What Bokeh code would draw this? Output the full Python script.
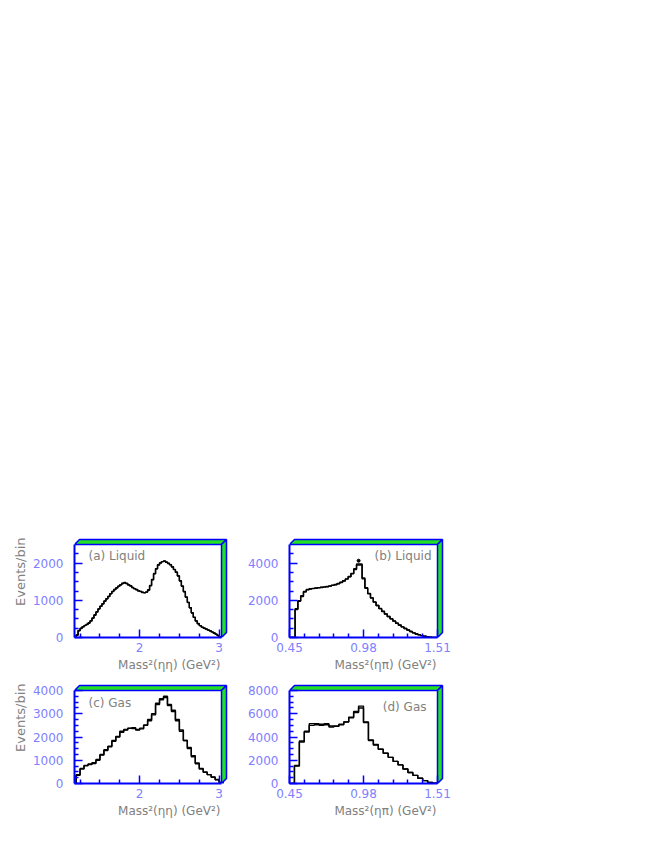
from bokeh.plotting import figure
from bokeh.layouts import column, row
from bokeh.models import Range1d, FixedTicker, Spacer, Label, Title
from bokeh.embed import file_html
from bokeh.resources import INLINE

# ---------------- data ----------------
# Mass^2(eta eta) histograms
etaeta_lo = 1.2
liquid_etaeta_width = 0.025
liquid_etaeta_data = [60, 190, 250, 290, 320, 345, 380, 440, 520, 610,
                      690, 770, 840, 900, 980, 1040, 1100, 1180, 1240, 1290,
                      1330, 1380, 1420, 1460, 1480, 1450, 1410, 1390, 1340, 1310,
                      1290, 1250, 1240, 1210, 1200, 1220, 1270, 1400, 1560, 1720,
                      1850, 1960, 2000, 2040, 2060, 2020, 1990, 1960, 1900, 1830,
                      1760, 1660, 1520, 1380, 1230, 1080, 940, 800, 660, 540,
                      440, 370, 320, 280, 250, 230, 200, 180, 150, 120,
                      90, 55, 20]
liquid_etaeta_fit = [70, 180, 240, 285, 325, 355, 395, 450, 525, 600,
                     685, 765, 840, 910, 975, 1040, 1110, 1175, 1235, 1290,
                     1340, 1380, 1420, 1450, 1465, 1450, 1420, 1385, 1345, 1315,
                     1285, 1260, 1235, 1215, 1205, 1225, 1285, 1390, 1550, 1710,
                     1845, 1945, 2010, 2040, 2050, 2030, 2000, 1955, 1895, 1825,
                     1750, 1650, 1525, 1385, 1235, 1090, 945, 800, 665, 545,
                     450, 375, 320, 280, 255, 230, 205, 180, 150, 120,
                     90, 55, 20]
gas_etaeta_width = 0.05
gas_etaeta_data = [350, 650, 780, 820, 860, 1000, 1250, 1450, 1580, 1850,
                   2000, 2250, 2300, 2370, 2400, 2300, 2350, 2500, 2750, 2950,
                   3450, 3600, 3750, 3350, 3150, 2750, 2300, 1850, 1550, 1200,
                   850, 620, 480, 380, 280, 170, 50]
gas_etaeta_fit = [380, 620, 760, 840, 900, 1030, 1220, 1420, 1600, 1820,
                  2020, 2200, 2320, 2380, 2360, 2320, 2380, 2520, 2700, 3000,
                  3400, 3650, 3700, 3400, 3100, 2700, 2250, 1850, 1500, 1150,
                  880, 650, 500, 380, 270, 160, 40]

# Mass^2(eta pi) histograms
etapi_lo = 0.45
liquid_etapi_width = 0.02
liquid_etapi_data = [0, 0, 1550, 1950, 2200, 2450, 2560, 2620, 2640, 2660,
                     2680, 2690, 2720, 2730, 2760, 2800, 2850, 2900, 2960, 3050,
                     3150, 3280, 3450, 3700, 3950, 3950, 3150, 2650, 2350, 2120,
                     1900, 1720, 1560, 1410, 1260, 1130, 1000, 880, 770, 660,
                     570, 480, 400, 320, 250, 190, 140, 100, 65, 40,
                     20, 8, 0]
liquid_etapi_fit = [0, 0, 1500, 1980, 2250, 2480, 2580, 2610, 2630, 2650,
                    2670, 2700, 2710, 2740, 2770, 2810, 2840, 2890, 2970, 3040,
                    3140, 3270, 3430, 3650, 3900, 3900, 3200, 2680, 2370, 2130,
                    1910, 1720, 1550, 1400, 1260, 1130, 1010, 890, 770, 670,
                    570, 480, 400, 320, 250, 190, 140, 100, 65, 40,
                    20, 8, 0]
liquid_etapi_peak_x = [0.945]
liquid_etapi_peak_y = [4130]
gas_etapi_width = 1.06 / 30
gas_etapi_data = [0, 1550, 3570, 4430, 5000, 5060, 5000, 5060, 4860, 4910,
                  5060, 5290, 5710, 6200, 6660, 5300, 3700, 3350, 2950, 2600,
                  2250, 1900, 1600, 1250, 950, 700, 450, 250, 100, 30]
gas_etapi_fit = [0, 1500, 3650, 4500, 5150, 5150, 5100, 5150, 4950, 4950,
                 5100, 5300, 5650, 6100, 6500, 5250, 3750, 3300, 2950, 2600,
                 2250, 1900, 1600, 1250, 950, 700, 450, 250, 100, 30]

# axes
etaeta_range = (1.18, 3.03)
etaeta_major = [2, 3]
etaeta_minor = [1.25, 1.5, 1.75, 2.25, 2.5, 2.75]
etapi_range = (0.45, 1.51)
etapi_major = [0.45, 0.98, 1.51]
etapi_minor = [0.556, 0.662, 0.768, 0.874, 1.086, 1.192, 1.298, 1.404]

liquid_etaeta_ymax = 2500
liquid_etaeta_ymajor = [0, 1000, 2000]
liquid_etaeta_yminor = [250, 500, 750, 1250, 1500, 1750, 2250]
liquid_etapi_ymax = 5000
liquid_etapi_ymajor = [0, 2000, 4000]
liquid_etapi_yminor = [500, 1000, 1500, 2500, 3000, 3500, 4500]
gas_etaeta_ymax = 4000
gas_etaeta_ymajor = [0, 1000, 2000, 3000, 4000]
gas_etaeta_yminor = [250, 500, 750, 1250, 1500, 1750, 2250, 2500, 2750, 3250, 3500, 3750]
gas_etapi_ymax = 8000
gas_etapi_ymajor = [0, 2000, 4000, 6000, 8000]
gas_etapi_yminor = [500, 1000, 1500, 2500, 3000, 3500, 4500, 5000, 5500, 6500, 7000, 7500]

etaeta_title = "Mass\u00b2(\u03b7\u03b7) (GeV\u00b2)"
etapi_title = "Mass\u00b2(\u03b7\u03c0) (GeV\u00b2)"
y_title = "Events/bin"

# ---------------- style ----------------
FONT = "DejaVu Sans"
BLUE = "#0000ff"
GREEN = "#22e022"
TICK_COL = "#8080ff"
TEXT_COL = "#808080"
DEPTH = 5
PAD = 7


def make_panel(lo, width, data, fit, xr, ymax, xmaj, xmin, ymaj, ymin,
               tag, tag_side, tag_dx, tag_dy, xtitle, ytitle,
               plot_w, plot_h, b_left, b_right, peak=None):
    x0, x1 = xr
    ux = (x1 - x0) / plot_w
    uy = ymax / plot_h
    p = figure(frame_width=plot_w + PAD, frame_height=plot_h + PAD,
               x_range=Range1d(x0, x1 + PAD * ux), y_range=Range1d(0, ymax + PAD * uy),
               output_backend="svg", toolbar_location=None,
               min_border_left=b_left, min_border_right=b_right,
               min_border_top=4, min_border_bottom=42)
    p.outline_line_color = None
    p.grid.visible = False
    p.background_fill_color = "white"
    p.border_fill_color = "white"

    for vals in (fit, data):
        xs = [lo] + [lo + i * width for i in range(len(vals) + 1)]
        ys = [0] + list(vals) + [0]
        p.step(xs, ys, mode="after", line_color="black", line_width=1.4)
    if peak is not None:
        p.scatter(peak[0], peak[1], size=3, color="black")

    dx, dy = DEPTH * ux, DEPTH * uy
    p.patch([x0, x1, x1 + dx, x0 + dx], [ymax, ymax, ymax + dy, ymax + dy],
            fill_color=GREEN, line_color=BLUE, line_width=1.5)
    p.patch([x1, x1 + dx, x1 + dx, x1], [0, dy, ymax + dy, ymax],
            fill_color=GREEN, line_color=BLUE, line_width=1.5)

    xa = p.xaxis[0]
    ya = p.yaxis[0]
    xa.ticker = FixedTicker(ticks=xmaj, minor_ticks=xmin)
    ya.ticker = FixedTicker(ticks=ymaj, minor_ticks=ymin)
    xa.bounds = (x0, x1)
    ya.bounds = (0, ymax)
    for ax in (xa, ya):
        ax.axis_line_color = BLUE
        ax.axis_line_width = 2
        ax.major_tick_line_color = BLUE
        ax.minor_tick_line_color = BLUE
        ax.major_tick_line_width = 1.5
        ax.minor_tick_line_width = 1.5
        ax.major_tick_in = 8
        ax.major_tick_out = 0
        ax.minor_tick_in = 4
        ax.minor_tick_out = 0
        ax.major_label_text_font = FONT
        ax.major_label_text_font_size = "12px"
        ax.major_label_text_color = TICK_COL
    xa.major_label_standoff = 5
    ya.major_label_standoff = 11

    p.add_layout(Title(text=xtitle, align="right", text_font=FONT,
                       text_font_size="12px", text_color=TEXT_COL,
                       text_font_style="normal", standoff=3, offset=8), "below")
    if ytitle:
        p.add_layout(Title(text=ytitle, align="right", text_font=FONT,
                           text_font_size="13px", text_color=TEXT_COL,
                           text_font_style="normal", standoff=4), "left")

    if tag_side == "left":
        lx, align = x0 + tag_dx * ux, "left"
    else:
        lx, align = x1 - tag_dx * ux, "right"
    p.add_layout(Label(x=lx, y=ymax - tag_dy * uy, text=tag, text_align=align,
                       text_baseline="middle", text_font=FONT,
                       text_font_size="12px", text_color=TEXT_COL))
    return p


pa = make_panel(etaeta_lo, liquid_etaeta_width, liquid_etaeta_data, liquid_etaeta_fit,
                etaeta_range, liquid_etaeta_ymax, etaeta_major, etaeta_minor,
                liquid_etaeta_ymajor, liquid_etaeta_yminor,
                "(a) Liquid", "left", 14, 11, etaeta_title, y_title, 147, 93, 68, 13)
pb = make_panel(etapi_lo, liquid_etapi_width, liquid_etapi_data, liquid_etapi_fit,
                etapi_range, liquid_etapi_ymax, etapi_major, etapi_minor,
                liquid_etapi_ymajor, liquid_etapi_yminor,
                "(b) Liquid", "right", 6, 11, etapi_title, None, 148, 93, 48, 10,
                peak=(liquid_etapi_peak_x, liquid_etapi_peak_y))
pc = make_panel(etaeta_lo, gas_etaeta_width, gas_etaeta_data, gas_etaeta_fit,
                etaeta_range, gas_etaeta_ymax, etaeta_major, etaeta_minor,
                gas_etaeta_ymajor, gas_etaeta_yminor,
                "(c) Gas", "left", 14, 12, etaeta_title, y_title, 147, 93, 68, 13)
pd_ = make_panel(etapi_lo, gas_etapi_width, gas_etapi_data, gas_etapi_fit,
                 etapi_range, gas_etapi_ymax, etapi_major, etapi_minor,
                 gas_etapi_ymajor, gas_etapi_yminor,
                 "(d) Gas", "right", 11, 16, etapi_title, None, 148, 93, 48, 10)

layout = row(Spacer(width=6, height=10),
             column(Spacer(width=10, height=533),
                    row(pa, pb, spacing=0),
                    row(pc, pd_, spacing=0), spacing=0),
             spacing=0)

open("out.html", "w").write(file_html(layout, INLINE))
